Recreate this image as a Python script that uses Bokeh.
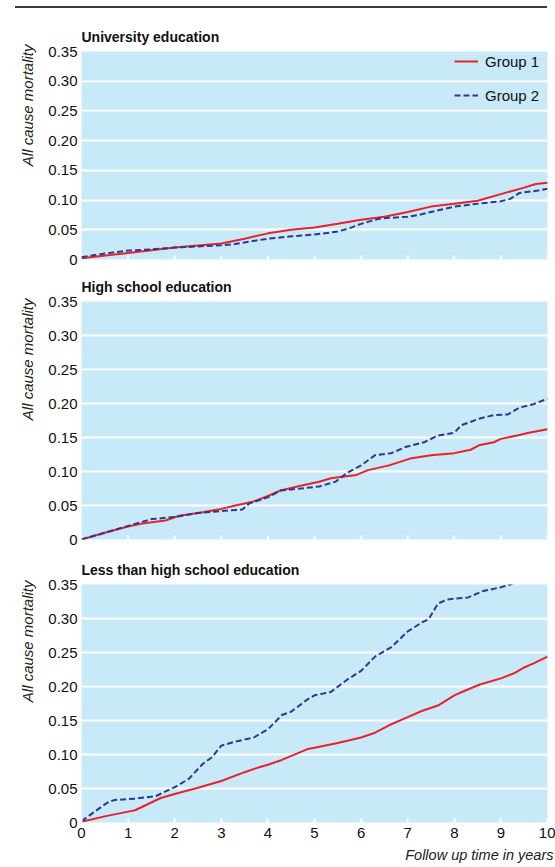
import math
from bokeh.plotting import figure
from bokeh.models import Range1d, FixedTicker, Legend, LegendItem, Div, Title
from bokeh.layouts import column
from bokeh.embed import file_html
from bokeh.resources import INLINE

# ---------------- data ----------------
X_TICKS = [0, 1, 2, 3, 4, 5, 6, 7, 8, 9, 10]
Y_TICKS = [0, 0.05, 0.1, 0.15, 0.2, 0.25, 0.3, 0.35]
Y_TICK_LABELS = ["0", "0.05", "0.10", "0.15", "0.20", "0.25", "0.30", "0.35"]
GRID_TICKS = [0.05, 0.1, 0.15, 0.2, 0.25, 0.3]

PANEL_TITLES = ["University education", "High school education", "Less than high school education"]
SERIES_NAMES = ["Group 1", "Group 2"]
Y_LABEL = "All cause mortality"
X_LABEL = "Follow up time in years"

# University education
uni_g1_t = [0, 1, 2, 3, 3.5, 4, 4.5, 5, 5.5, 6, 6.5, 7, 7.5, 8, 8.5, 9, 9.5, 9.75, 10]
uni_g1_y = [0.002, 0.011, 0.020, 0.027, 0.035, 0.044, 0.050, 0.054, 0.060, 0.067, 0.072, 0.080, 0.089, 0.094,
            0.099, 0.110, 0.121, 0.127, 0.129]
uni_g2_t = [0, 0.5, 1, 1.5, 2, 2.5, 3, 3.3, 3.6, 4, 4.5, 5, 5.5, 5.8, 6, 6.4, 7, 7.3, 7.5, 8, 8.4, 9, 9.2, 9.4,
            9.8, 10]
uni_g2_y = [0.004, 0.010, 0.015, 0.017, 0.020, 0.022, 0.024, 0.026, 0.030, 0.035, 0.039, 0.042, 0.047, 0.054,
            0.060, 0.069, 0.072, 0.076, 0.080, 0.089, 0.093, 0.098, 0.102, 0.112, 0.116, 0.119]

# High school education
hs_g1_t = [0, 0.5, 1, 1.27, 1.8, 2.1, 2.6, 3, 3.3, 3.65, 4, 4.27, 4.7, 5.1, 5.35, 5.9, 6.15, 6.6, 7.05, 7.5, 8,
           8.35, 8.55, 8.85, 9.0, 9.35, 9.6, 10]
hs_g1_y = [0, 0.010, 0.019, 0.023, 0.028, 0.035, 0.040, 0.045, 0.050, 0.055, 0.064, 0.072, 0.079, 0.085, 0.090,
           0.095, 0.102, 0.109, 0.119, 0.124, 0.127, 0.132, 0.139, 0.143, 0.148, 0.153, 0.157, 0.162]
hs_g2_t = [0, 0.5, 1, 1.5, 2, 2.5, 3, 3.45, 3.6, 4, 4.27, 4.7, 5.1, 5.45, 5.7, 6.0, 6.3, 6.65, 6.95, 7.35, 7.65,
           8.0, 8.15, 8.55, 8.85, 9.15, 9.4, 9.7, 10]
hs_g2_y = [0, 0.010, 0.020, 0.030, 0.033, 0.039, 0.042, 0.044, 0.053, 0.062, 0.072, 0.075, 0.078, 0.085, 0.098,
           0.109, 0.124, 0.127, 0.136, 0.143, 0.153, 0.157, 0.168, 0.178, 0.183, 0.184, 0.194, 0.199, 0.207]

# Less than high school education
lhs_g1_t = [0, 0.5, 1, 1.15, 1.7, 2, 2.5, 3, 3.5, 3.8, 4, 4.3, 4.85, 5, 5.5, 6, 6.3, 6.6, 7, 7.3, 7.65, 8, 8.2,
            8.55, 9, 9.3, 9.5, 9.7, 10]
lhs_g1_y = [0.001, 0.009, 0.016, 0.018, 0.036, 0.042, 0.051, 0.061, 0.074, 0.081, 0.085, 0.092, 0.108, 0.110,
            0.117, 0.125, 0.132, 0.143, 0.155, 0.164, 0.172, 0.187, 0.193, 0.203, 0.212, 0.220, 0.228, 0.234, 0.244]
lhs_g2_t = [0, 0.55, 0.7, 1.15, 1.6, 2.0, 2.3, 2.6, 2.8, 3.0, 3.3, 3.7, 4.0, 4.3, 4.5, 4.85, 5.0, 5.35, 5.7, 6.0,
            6.3, 6.65, 7.0, 7.3, 7.45, 7.65, 7.85, 8.3, 8.6, 9.0, 9.25]
lhs_g2_y = [0.002, 0.029, 0.033, 0.035, 0.039, 0.052, 0.064, 0.086, 0.096, 0.113, 0.119, 0.125, 0.137, 0.158,
            0.163, 0.181, 0.187, 0.192, 0.210, 0.223, 0.244, 0.258, 0.281, 0.294, 0.299, 0.322, 0.328, 0.331,
            0.340, 0.346, 0.351]

# ---------------- style ----------------
FONT = "Liberation Sans"
BG = "#c8e9f8"
RED = "#e8212b"
NAVY = "#2b3990"


def make_fig(title, top_border, frame_h, bottom_border, show_x, ylabel_offset):
    p = figure(frame_width=466, frame_height=frame_h,
               min_border_left=81, min_border_right=8,
               min_border_top=top_border, min_border_bottom=bottom_border,
               x_range=Range1d(0, 10), y_range=Range1d(0, 0.35),
               x_axis_location="below" if show_x else None,
               output_backend="svg", toolbar_location=None, title=title)
    p.background_fill_color = BG
    p.border_fill_color = "white"
    p.outline_line_color = None

    p.title.text_font = FONT
    p.title.text_font_style = "bold"
    p.title.text_font_size = "14px"
    p.title.align = "left"
    p.title.offset = 0
    p.title.standoff = 13
    p.title.text_color = "#111111"

    p.xgrid.visible = False
    p.ygrid.ticker = FixedTicker(ticks=GRID_TICKS)
    p.ygrid.grid_line_color = "white"
    p.ygrid.grid_line_width = 2

    ya = p.yaxis[0]
    ya.ticker = FixedTicker(ticks=Y_TICKS)
    ya.major_label_overrides = dict(zip(Y_TICKS, Y_TICK_LABELS))
    ya.axis_line_color = None
    ya.major_tick_line_color = None
    ya.major_tick_out = 0
    ya.major_tick_in = 0
    ya.minor_tick_line_color = None
    ya.minor_tick_out = 0
    ya.minor_tick_in = 0
    ya.major_label_standoff = 4
    ya.axis_label_standoff = 0
    ya.major_label_text_font = FONT
    ya.major_label_text_font_size = "15px"
    ya.major_label_text_color = "#111111"

    # y-axis label, top-aligned, as a side title
    p.add_layout(Title(text=Y_LABEL, align="right", text_font=FONT, text_font_style="italic",
                       text_font_size="15px", text_color="#222222", standoff=19,
                       offset=ylabel_offset), "left")

    if show_x:
        xa = p.xaxis[0]
        xa.ticker = FixedTicker(ticks=X_TICKS)
        xa.axis_line_color = None
        xa.major_tick_line_color = "white"
        xa.major_tick_line_width = 2
        xa.major_tick_in = 4
        xa.major_tick_out = 0
        xa.minor_tick_line_color = None
        xa.major_label_text_font = FONT
        xa.major_label_text_color = "#111111"
        xa.major_label_text_font_size = "15px"
        xa.major_label_standoff = 5
        p.add_layout(Title(text=X_LABEL, align="right", text_font=FONT, text_font_style="italic",
                           text_font_size="14.5px", text_color="#222222", standoff=8, offset=-6), "below")
    else:
        # white inward tick marks along the bottom edge (lower half clipped by the frame)
        p.scatter(X_TICKS, [0] * len(X_TICKS), marker="dash", angle=math.pi / 2, size=8,
                  line_color="white", line_width=2)
    return p


def add_lines(p, t1, y1, t2, y2):
    r1 = p.line(t1, y1, line_color=RED, line_width=2)
    r2 = p.line(t2, y2, line_color=NAVY, line_width=2, line_dash="6 3")
    return r1, r2


rule = Div(text="", width=532, height=2, margin=(6, 0, 2, 15),
           styles={"background-color": "#3a3a3a"})

p1 = make_fig(PANEL_TITLES[0], 41, 208, 11, False, -7)
r1, r2 = add_lines(p1, uni_g1_t, uni_g1_y, uni_g2_t, uni_g2_y)
legend = Legend(items=[LegendItem(label=SERIES_NAMES[0], renderers=[r1]),
                       LegendItem(label=SERIES_NAMES[1], renderers=[r2])],
                location="top_right", margin=0, padding=6, spacing=14,
                label_height=20, glyph_height=20, glyph_width=24, label_standoff=7,
                label_width=62, background_fill_alpha=0, border_line_color=None,
                label_text_font=FONT, label_text_font_size="15px", label_text_color="#111111")
p1.add_layout(legend)

p2 = make_fig(PANEL_TITLES[1], 30, 238, 14, False, -3)
add_lines(p2, hs_g1_t, hs_g1_y, hs_g2_t, hs_g2_y)

p3 = make_fig(PANEL_TITLES[2], 30, 238, 47, True, -4)
add_lines(p3, lhs_g1_t, lhs_g1_y, lhs_g2_t, lhs_g2_y)

layout = column(rule, p1, p2, p3, spacing=0)

open("out.html", "w").write(file_html(layout, INLINE))
